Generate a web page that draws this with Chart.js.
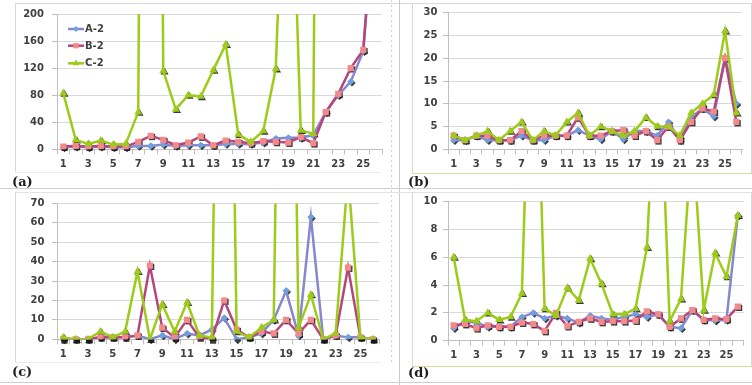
<!DOCTYPE html>
<html lang="en">
<head>
<meta charset="UTF-8">
<title>A-2 / B-2 / C-2</title>
<script src="https://cdn.jsdelivr.net/npm/chart.js"></script>
<style>
  body { margin: 0; background: #fff; width: 752px; height: 385px; position: relative; overflow: hidden; }
  canvas { position: absolute; }
  .tag { position: absolute; font: bold 13px "DejaVu Serif", serif; color: #1e1e1e; line-height: 14px; }
  .ln { position: absolute; background: #d9d9d9; }
</style>
</head>
<body>
  <!-- frames -->
  <div class="ln" style="left:15px;top:3px;width:737px;height:1px;"></div>
  <div class="ln" style="left:15px;top:3px;width:1px;height:169px;"></div>
  <div class="ln" style="left:15px;top:172px;width:366px;height:1px;background:#ececec"></div>
  <div class="ln" style="left:15px;top:193px;width:1px;height:169px;"></div>
  <div class="ln" style="left:15px;top:362px;width:366px;height:1px;background:#ececec"></div>
  <div class="ln" style="left:391px;top:0;width:1px;height:365px;background:repeating-linear-gradient(#d0d0d0 0 2px, transparent 2px 5px)"></div>
  <div class="ln" style="left:399px;top:0;width:1px;height:385px;background:#c9c9c9"></div>
  <div class="ln" style="left:412px;top:3px;width:1px;height:170px;"></div>
  <div class="ln" style="left:412px;top:173px;width:340px;height:1px;background:#dcdc9a"></div>
  <div class="ln" style="left:751px;top:3px;width:1px;height:170px;"></div>
  <div class="ln" style="left:0;top:188px;width:752px;height:1px;background:#cfcfcf"></div>
  <div class="ln" style="left:15px;top:192px;width:737px;height:1px;background:#e2e2e2"></div>
  <div class="ln" style="left:412px;top:192px;width:1px;height:174px;"></div>
  <div class="ln" style="left:412px;top:366px;width:340px;height:1px;background:#dcdc9a"></div>
  <div class="ln" style="left:751px;top:192px;width:1px;height:174px;"></div>
  <div class="ln" style="left:0;top:382px;width:752px;height:1px;background:#cfcfcf"></div>

  <canvas id="chartA" width="390" height="175" style="left:0;top:0"></canvas>
  <canvas id="chartB" width="362" height="175" style="left:390px;top:0"></canvas>
  <canvas id="chartC" width="390" height="175" style="left:0;top:190px"></canvas>
  <canvas id="chartD" width="362" height="175" style="left:390px;top:190px"></canvas>

  <div class="tag" style="left:12px;top:175px">(a)</div>
  <div class="tag" style="left:408px;top:175px">(b)</div>
  <div class="tag" style="left:12px;top:365px">(c)</div>
  <div class="tag" style="left:408px;top:366px">(d)</div>

<script>
const cats = ['1','2','3','4','5','6','7','8','9','10','11','12','13','14','15','16','17','18','19','20','21','22','23','24','25','26'];
const seriesNames = ['A-2', 'B-2', 'C-2'];

// (a)
const aA = [3,4,3,4,3,3,5,5,7,5,6,6,6,8,8,8,10,16,17,17,21,55,80,100,145,380];
const aB = [4,5,4,5,4,4,11,20,14,6,10,19,6,13,11,9,12,11,10,18,9,55,82,120,147,380];
const aC = [83,14,8,13,7,8,55,3000,116,59,80,78,117,155,22,11,27,119,600,28,23,2500,2000,2000,2000,2000];
const aTicks = [0, 200, 20];

// (b)
const bA = [2,2,3,2,2,2,3,2,2,3,3,4.2,3,2.2,4,2.2,4,4,3,6,2,7,9,7.2,20,10];
const bB = [3,2,3,3,2,2,4,2,3,3,3,7,3,3,4,4.2,3,4,2,5,2,6,9,8.3,20,6];
const bC = [3,2,3,4,2,4,6,2,4,3,6,8,3,5,4,3,4,7,5,5,3,8,10,12,26,8];
const bTicks = [0, 30, 5];

// (c)
const cA = [0,0,0,1,1,1,2,0,2,0,3,2,5,11,0,1,3,10,25,2,63,0,2,1,1,0];
const cB = [0,0,0,1,1,1,2,38,6,1,10,1,0,20,5,1,4,3,10,3,10,0,2,37,1,0];
const cC = [1,0,0,4,1,4,35,0,18,4,19,2,1,450,4,1,6,10,450,6,23,0,3,85,1,0];
const cTicks = [0, 70, 10];

// (d)
const dA = [0.9,1.4,1.3,1.0,1.0,1.0,1.7,2.0,1.6,1.8,1.6,1.3,1.8,1.6,1.5,1.7,1.9,1.7,1.9,1.0,0.9,2.2,1.5,1.45,1.5,9.0];
const dB = [1.1,1.2,0.9,1.1,1.0,1.0,1.3,1.2,0.7,2.0,1.05,1.35,1.6,1.35,1.4,1.4,1.45,2.1,1.9,1.0,1.6,2.2,1.5,1.6,1.55,2.45];
const dC = [6.0,1.5,1.4,2.0,1.5,1.7,3.4,30,2.3,1.8,3.8,2.9,5.9,4.1,1.9,1.9,2.3,6.7,23,1.4,3.0,15,2.2,6.3,4.6,9.0];
const dTicks = [0, 10, 1];

const styles = [
  { line: '#8787cc', fill: '#6e9fe0', shape: 'rectRot', r: 3.6, order: 3 },
  { line: '#b5467c', fill: '#f28a8a', shape: 'rect', r: 4.4, order: 2 },
  { line: '#9dcb1a', fill: '#9dcb1a', shape: 'triangle', r: 4.6, order: 1 }
];

const tickFont = { family: 'DejaVu Sans', size: 10, weight: 'bold' };
const textColor = '#404040';

function markerPath(ctx, shape, r, x, y) {
  ctx.beginPath();
  if (shape === 'triangle') {
    ctx.moveTo(x, y - r);
    ctx.lineTo(x + r * 0.866, y + r * 0.5);
    ctx.lineTo(x - r * 0.866, y + r * 0.5);
  } else if (shape === 'rect') {
    const s = r * Math.SQRT1_2;
    ctx.rect(x - s, y - s, 2 * s, 2 * s);
  } else {
    ctx.moveTo(x - r, y);
    ctx.lineTo(x, y - r);
    ctx.lineTo(x + r, y);
    ctx.lineTo(x, y + r);
  }
  ctx.closePath();
}

// dark drop shadow under the markers, drawn before any series
const shadowPlugin = {
  id: 'markerShadow',
  beforeDatasetsDraw(chart) {
    const area = chart.chartArea;
    const ctx = chart.ctx;
    ctx.save();
    ctx.fillStyle = 'rgba(25,25,25,0.85)';
    chart.data.datasets.forEach((ds, i) => {
      const st = styles[i];
      chart.getDatasetMeta(i).data.forEach(p => {
        if (p.y < area.top - 1 || p.y > area.bottom + 1) return;
        markerPath(ctx, st.shape, st.r, p.x + 1.3, p.y + 1.3);
        ctx.fill();
      });
    });
    ctx.restore();
  }
};

const legendPlugin = {
  id: 'insideLegend',
  afterDraw(chart, args, opts) {
    if (!opts.show) return;
    const ctx = chart.ctx;
    const x0 = chart.chartArea.left + 11;
    const ys = [29, 45.7, 63.3];
    ctx.save();
    seriesNames.forEach((name, i) => {
      const st = styles[i];
      const y = ys[i];
      ctx.strokeStyle = st.line;
      ctx.lineWidth = 2.5;
      ctx.beginPath();
      ctx.moveTo(x0, y);
      ctx.lineTo(x0 + 16, y);
      ctx.stroke();
      ctx.fillStyle = st.fill;
      markerPath(ctx, st.shape, st.r * 0.85, x0 + 8, y);
      ctx.fill();
      ctx.fillStyle = textColor;
      ctx.font = 'bold 10px "DejaVu Sans"';
      ctx.textBaseline = 'middle';
      ctx.fillText(name, x0 + 17, y + 0.5);
    });
    ctx.restore();
  }
};

function makeChart(id, A, B, C, ticks, box, showLegend) {
  const [ymin, ymax, step] = ticks;
  const data = [A, B, C];
  new Chart(document.getElementById(id), {
    type: 'line',
    data: {
      labels: cats,
      datasets: data.map((vals, i) => ({
        label: seriesNames[i],
        data: vals,
        borderColor: styles[i].line,
        backgroundColor: styles[i].fill,
        borderWidth: 2.5,
        tension: 0,
        pointStyle: styles[i].shape,
        pointRadius: styles[i].r,
        pointBorderWidth: 0,
        pointBackgroundColor: styles[i].fill,
        order: styles[i].order
      }))
    },
    options: {
      responsive: false,
      animation: false,
      events: [],
      layout: { padding: { top: box.top, right: box.right, left: 0, bottom: 0 } },
      scales: {
        x: {
          offset: true,
          grid: { drawOnChartArea: false, offset: true, tickLength: 5, tickColor: '#bfbfbf' },
          border: { color: '#bfbfbf' },
          ticks: {
            autoSkip: false, maxRotation: 0, minRotation: 0, padding: 4,
            font: tickFont, color: textColor,
            callback: (v, i) => (i % 2 === 0 ? cats[i] : '')
          },
          afterFit: s => { s.height = box.xh; }
        },
        y: {
          min: ymin, max: ymax,
          grid: { color: '#d9d9d9', tickLength: 5, tickColor: '#bfbfbf' },
          border: { color: '#bfbfbf' },
          ticks: { stepSize: step, font: tickFont, color: textColor, padding: box.pad },
          afterFit: s => { s.width = box.left; }
        }
      },
      plugins: {
        legend: { display: false },
        tooltip: { enabled: false },
        insideLegend: { show: showLegend }
      }
    },
    plugins: [shadowPlugin, legendPlugin]
  });
}

makeChart('chartA', aA, aB, aC, aTicks, { left: 57, top: 12.7, right: 8, xh: 25.7, pad: 8 }, true);
makeChart('chartB', bA, bB, bC, bTicks, { left: 58, top: 12.7, right: 10, xh: 25.7, pad: 5.5 }, false);
makeChart('chartC', cA, cB, cC, cTicks, { left: 57, top: 9.3, right: 11, xh: 25.7, pad: 7.5 }, false);
makeChart('chartD', dA, dB, dC, dTicks, { left: 58, top: 8.3, right: 8.5, xh: 24.3, pad: 5.5 }, false);
</script>
</body>
</html>
